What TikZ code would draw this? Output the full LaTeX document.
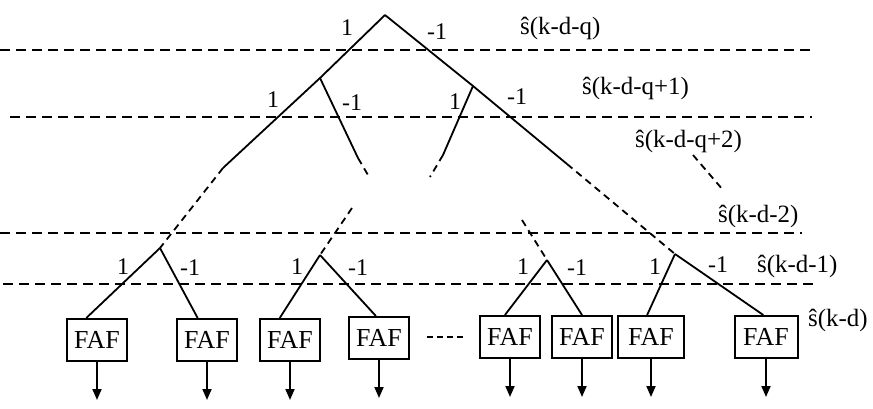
\documentclass[tikz,border=0pt]{standalone}
\usepackage{fontspec}
\setmainfont{Liberation Serif}
\usetikzlibrary{arrows.meta}

\begin{document}
\begin{tikzpicture}[x=1bp,y=-1bp,>={Triangle[length=11bp,width=9bp]},
  every node/.style={font=\fontsize{24}{24}\selectfont},
  faf/.style={draw,line width=2bp,minimum width=60bp,minimum height=42bp,inner sep=0pt,font=\fontsize{26}{26}\selectfont},
  branch/.style={line width=1.8bp},
  gap/.style={line width=1.8bp,dash pattern=on 7bp off 5bp},
  level/.style={line width=2.2bp,dash pattern=on 10bp off 6bp},
  stage/.style={anchor=base west,inner sep=0pt,font=\fontsize{25}{25}\selectfont}]
\useasboundingbox (0,0) rectangle (873,408);
% levels
\draw[level] (0,50) -- (810,50);
\draw[level] (10,117) -- (812,117);
\draw[level] (0,233) -- (802,233);
\draw[level] (3,284) -- (814,284);
\node[stage] (S0) at (520,34) {\^{s}(k-d-q)};
\node[stage] (S1) at (582,94) {\^{s}(k-d-q+1)};
\node[stage] (S2) at (635,147) {\^{s}(k-d-q+2)};
\node[stage] (S3) at (718,222) {\^{s}(k-d-2)};
\node[stage] (S4) at (757,272) {\^{s}(k-d-1)};
\node[stage] (S5) at (808,326) {\^{s}(k-d)};
\coordinate (C1) at (693,155);
\coordinate (C2) at (723,190);
\draw[gap] (C1) -- (C2);
% tree
\coordinate (R) at (385,15);
\coordinate (A) at (320,78);
\coordinate (B) at (473,86);
\coordinate (A1) at (223,168);
\coordinate (A2) at (358,158);
\coordinate (A3) at (368,175);
\coordinate (B1) at (443,155);
\coordinate (B2) at (430,177);
\coordinate (B3) at (567,164);
\coordinate (U2) at (352,208);
\coordinate (U3) at (522,220);
\coordinate (T1) at (160,248);
\coordinate (T2) at (320,255);
\coordinate (T3) at (547,260);
\coordinate (T4) at (675,254);
\draw[branch] (R) -- (A) -- (A1);
\draw[gap] (A1) -- (T1);
\draw[branch] (R) -- (B) -- (B3);
\draw[gap] (B3) -- (T4);
\draw[branch] (A) -- (A2);
\draw[gap] (A2) -- (A3);
\draw[branch] (B) -- (B1);
\draw[gap] (B1) -- (B2);
\draw[gap] (U2) -- (T2);
\draw[gap] (U3) -- (T3);
\node (L0) at (347,28) {1};
\node (M0) at (437,32) {-1};
\node (L1) at (273,100) {1};
\node (M1) at (352,103) {-1};
\node (L2) at (455,102) {1};
\node (M2) at (517,97) {-1};
\node (L3) at (123,267) {1};
\node (M3) at (190,268) {-1};
\node (L4) at (297,267) {1};
\node (M4) at (358,268) {-1};
\node (L5) at (523,267) {1};
\node (M5) at (577,268) {-1};
\node (L6) at (655,267) {1};
\node (M6) at (718,265) {-1};
% filters
\node[faf] (F1) at (97,340) {FAF};
\node[faf] (F2) at (207,340) {FAF};
\node[faf] (F3) at (290,340) {FAF};
\node[faf] (F4) at (379,338) {FAF};
\node[faf] (F5) at (510,337) {FAF};
\node[faf] (F6) at (582,337) {FAF};
\node[faf,minimum width=66bp] (F7) at (651,337) {FAF};
\node[faf,minimum width=63bp] (F8) at (766,337) {FAF};
\draw[branch] (T1) -- (F1.116);
\draw[branch] (T1) -- (F2.113);
\draw[branch] (T2) -- (F3.115);
\draw[branch] (T2) -- (F4.98);
\draw[branch] (T3) -- (F5.103);
\draw[branch] (T3) -- (F6.north);
\draw[branch] (T4) -- (F7.100);
\draw[branch] (T4) -- (F8.97);
\foreach \n in {1,...,8}
  \draw[branch,->] (F\n.south) -- ++(0,38) coordinate (O\n);
\coordinate (D1) at (427,337);
\coordinate (D2) at (463,337);
\draw[line width=1.5bp,dash pattern=on 6bp off 4bp] (D1) -- (D2);
\end{tikzpicture}
\end{document}
